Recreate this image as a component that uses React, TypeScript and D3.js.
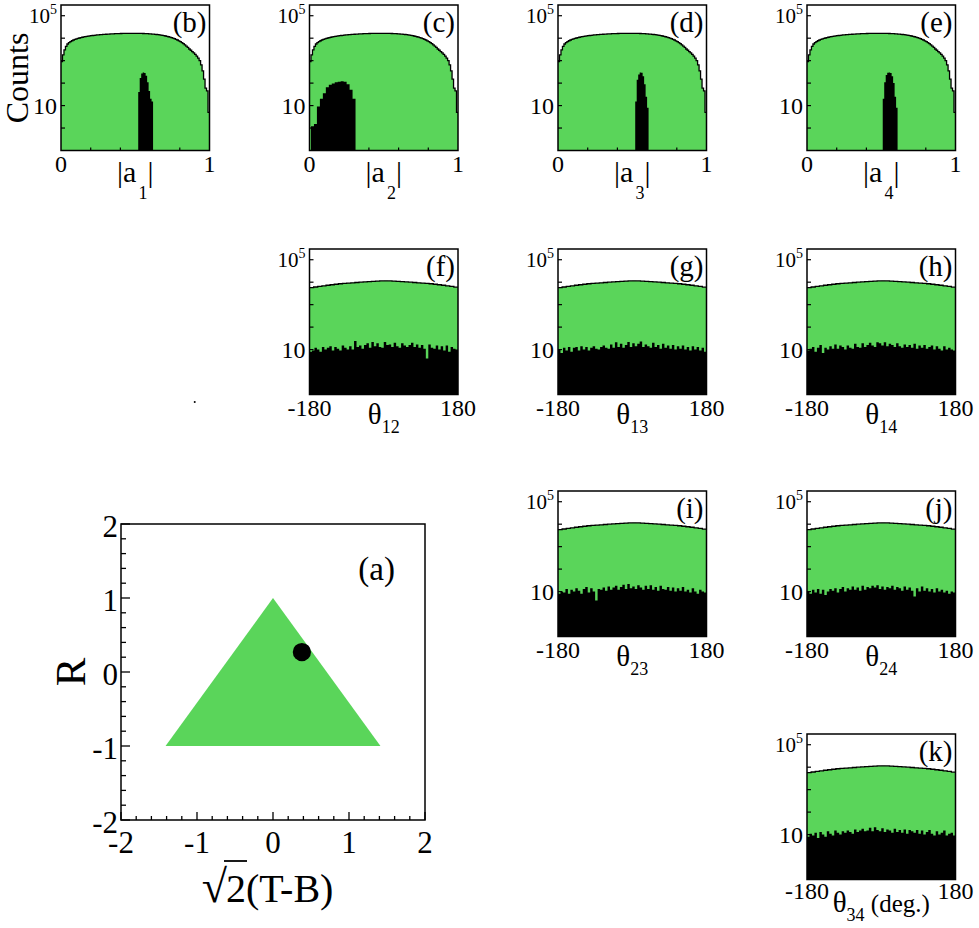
import React, { useEffect, useRef } from "react";
import * as d3 from "d3";

// ---- data ----

// |a_i| histograms, all events (green): 100 bins over [0, 1], same shape in (b)-(e)
const aGreen = [
  900, 1800, 3000, 4300, 5500, 6300, 7000, 7700, 8300, 8800,
  9300, 9800, 10200, 10600, 11000, 11400, 11700, 12000, 12300, 12600,
  12900, 13150, 13400, 13650, 13900, 14100, 14300, 14500, 14700, 14850,
  15000, 15150, 15300, 15450, 15600, 15700, 15800, 15900, 16000, 16100,
  16200, 16250, 16300, 16350, 16400, 16450, 16500, 16500, 16500, 16500,
  16500, 16450, 16400, 16350, 16300, 16200, 16100, 15950, 15800, 15650,
  15500, 15300, 15100, 14850, 14600, 14300, 14000, 13650, 13300, 12900,
  12500, 12050, 11600, 11100, 10600, 10050, 9500, 8900, 8300, 7650,
  7000, 6350, 5700, 5050, 4400, 3900, 3300, 2900, 2500, 2200,
  1900, 1600, 1300, 1000, 650, 350, 150, 60, 45, 5];

// selected events (black), bins start at *Start
const a1Start = 0.52, a1Width = 0.01;
const a1Black = [40, 170, 270, 300, 280, 210, 110, 45, 20, 15];
const a2Start = 0.01, a2Width = 0.02;
const a2Black = [1.2, 1.5, 9, 20, 35, 65, 85, 95, 108, 115, 120, 115, 90, 50, 20];
const a3Start = 0.52, a3Width = 0.01;
const a3Black = [15, 140, 240, 300, 290, 200, 90, 25, 8];
const a4Start = 0.51, a4Width = 0.01;
const a4Black = [20, 110, 230, 290, 300, 280, 200, 100, 25, 8];

// theta_ij histograms, all events: 36 bins over [-180, 180]
const thetaGreen = [5700, 6100, 6500, 6900, 7300, 7700, 8100, 8500, 8800, 9100,
  9400, 9700, 10000, 10300, 10600, 10900, 11200, 11400, 11500, 11400,
  11200, 10900, 10600, 10300, 10000, 9700, 9400, 9100, 8800, 8500,
  8100, 7700, 7300, 6900, 6500, 6000];

// selected events: 60 bins over [-180, 180]
const theta12Black = [8, 9, 12, 10, 8, 13, 10, 12, 14, 9, 13, 11, 9, 15, 12, 10, 14, 10, 24, 13,
  15, 11, 16, 19, 12, 22, 14, 19, 13, 12, 22, 16, 17, 13, 20, 14, 12, 19, 15, 13,
  16, 20, 13, 17, 12, 16, 11, 4, 17, 12, 11, 15, 10, 14, 9, 15, 8, 13, 11, 10];
const theta13Black = [10, 7, 12, 9, 13, 8, 12, 13, 9, 14, 10, 13, 9, 12, 14, 11, 10, 13, 15, 12,
  11, 17, 12, 21, 13, 18, 12, 16, 22, 13, 19, 14, 18, 23, 13, 17, 14, 12, 20, 13,
  16, 11, 18, 12, 15, 11, 16, 10, 14, 11, 15, 10, 13, 9, 14, 10, 13, 9, 12, 8];
const theta14Black = [9, 11, 13, 8, 12, 16, 7, 12, 10, 14, 11, 17, 11, 15, 13, 10, 15, 12, 11, 18,
  13, 12, 19, 13, 16, 20, 15, 13, 21, 19, 15, 21, 14, 18, 16, 13, 19, 14, 12, 17,
  13, 16, 12, 18, 11, 15, 12, 16, 11, 13, 15, 10, 14, 11, 9, 14, 10, 12, 10, 9];
const theta23Black = [8, 10, 9, 13, 8, 12, 10, 14, 11, 8, 13, 16, 9, 14, 10, 4, 13, 12, 15, 11,
  17, 12, 15, 18, 12, 16, 20, 13, 22, 14, 17, 13, 19, 15, 12, 18, 13, 19, 12, 16,
  11, 18, 13, 12, 16, 11, 15, 10, 14, 11, 16, 10, 12, 9, 14, 10, 8, 12, 10, 9];
const theta24Black = [10, 8, 12, 9, 13, 8, 12, 7, 10, 13, 11, 14, 9, 13, 16, 10, 14, 12, 17, 12,
  15, 11, 18, 12, 16, 14, 18, 15, 19, 13, 17, 12, 16, 14, 18, 12, 16, 14, 11, 17,
  12, 15, 11, 6, 14, 10, 17, 11, 14, 10, 13, 9, 14, 10, 12, 9, 11, 8, 10, 9];
const theta34Black = [8, 11, 9, 12, 7, 13, 10, 8, 14, 11, 9, 15, 12, 10, 14, 12, 15, 13, 11, 17,
  13, 15, 18, 14, 15, 20, 14, 21, 16, 14, 19, 13, 17, 15, 12, 18, 13, 16, 12, 17,
  11, 16, 14, 12, 16, 11, 15, 10, 13, 16, 11, 9, 14, 10, 12, 15, 9, 11, 12, 9];

// panel (a): allowed region (triangle) and the selected events
const triT = [0, -1.414, 1.414];
const triR = [1, -1, -1];
const blobT = [0.38];
const blobR = [0.27];
const blobSize = 0.12;
const strayT = [-1.03];
const strayR = [3.65];
const aTicks = [-2, -1, 0, 1, 2];

const countTicks = [1, 10, 100, 1000, 1e4, 1e5];

// ---- layout ----
const W = 979, H = 928;
const FONT = "'Liberation Serif', 'Times New Roman', serif";
const GREEN = "#5ad55a";
const colLeft = [61, 309.5, 558, 807];
const rowTop = [5, 249, 491, 734];
const PW = 148.5, PH = 145.5;

type Hist = {
  tag: string; col: number; row: number; kind: "a" | "theta"; sub: string;
  black: number[]; bStart: number; bWidth: number; last?: boolean;
};

const hists: Hist[] = [
  { tag: "(b)", col: 0, row: 0, kind: "a", sub: "1", black: a1Black, bStart: a1Start, bWidth: a1Width },
  { tag: "(c)", col: 1, row: 0, kind: "a", sub: "2", black: a2Black, bStart: a2Start, bWidth: a2Width },
  { tag: "(d)", col: 2, row: 0, kind: "a", sub: "3", black: a3Black, bStart: a3Start, bWidth: a3Width },
  { tag: "(e)", col: 3, row: 0, kind: "a", sub: "4", black: a4Black, bStart: a4Start, bWidth: a4Width },
  { tag: "(f)", col: 1, row: 1, kind: "theta", sub: "12", black: theta12Black, bStart: -180, bWidth: 6 },
  { tag: "(g)", col: 2, row: 1, kind: "theta", sub: "13", black: theta13Black, bStart: -180, bWidth: 6 },
  { tag: "(h)", col: 3, row: 1, kind: "theta", sub: "14", black: theta14Black, bStart: -180, bWidth: 6 },
  { tag: "(i)", col: 2, row: 2, kind: "theta", sub: "23", black: theta23Black, bStart: -180, bWidth: 6 },
  { tag: "(j)", col: 3, row: 2, kind: "theta", sub: "24", black: theta24Black, bStart: -180, bWidth: 6 },
  { tag: "(k)", col: 3, row: 3, kind: "theta", sub: "34", black: theta34Black, bStart: -180, bWidth: 6, last: true },
];

// turn bin values into step points [x, value]
function steps(values: number[], start: number, width: number): [number, number][] {
  return values.flatMap((v, i) => [[start + i * width, v], [start + (i + 1) * width, v]] as [number, number][]);
}

function drawHist(svg: any, p: Hist) {
  const left = colLeft[p.col], top = rowTop[p.row];
  const right = left + PW, bottom = top + PH;
  const xDom = p.kind === "a" ? [0, 1] : [-180, 180];
  const x = d3.scaleLinear().domain(xDom).range([left, right]);
  const y = d3.scaleLog().domain([0.1, 3e5]).range([bottom, top]).clamp(true);
  const g = svg.append("g").attr("font-family", FONT);

  const green = p.kind === "a" ? aGreen : thetaGreen;
  const gw = (xDom[1] - xDom[0]) / green.length;
  const greenPts = steps(green, xDom[0], gw);

  const area = d3.area<[number, number]>()
    .x(d => x(d[0]))
    .y0(y(0.1))
    .y1(d => y(d[1]));
  const line = d3.line<[number, number]>()
    .x(d => x(d[0]))
    .y(d => y(d[1]));

  g.append("path").attr("d", area(greenPts)).attr("fill", GREEN);
  g.append("path").attr("d", line(greenPts))
    .attr("fill", "none").attr("stroke", "#000").attr("stroke-width", 1.3);

  g.append("path").attr("d", area(steps(p.black, p.bStart, p.bWidth))).attr("fill", "#000");

  // inward ticks
  g.selectAll(".yt").data(countTicks).join("line")
    .attr("x1", left).attr("x2", left + 4)
    .attr("y1", d => y(d)).attr("y2", d => y(d))
    .attr("stroke", "#000").attr("stroke-width", 1.2);
  const xt = p.kind === "a" ? [0.2, 0.4, 0.6, 0.8] : [-90, 0, 90];
  g.selectAll(".xt").data(xt).join("line")
    .attr("x1", d => x(d)).attr("x2", d => x(d))
    .attr("y1", bottom).attr("y2", bottom - 3)
    .attr("stroke", "#000").attr("stroke-width", 1.2);

  g.append("rect").attr("x", left).attr("y", top).attr("width", PW).attr("height", PH)
    .attr("fill", "none").attr("stroke", "#000").attr("stroke-width", 1.5);

  // y tick labels
  const t5 = g.append("text").attr("x", left - 4).attr("y", y(1e5) + 7)
    .attr("text-anchor", "end");
  t5.append("tspan").attr("font-size", 21).text("10");
  t5.append("tspan").attr("font-size", 14).attr("dy", -9).text("5");
  g.append("text").attr("x", left - 4).attr("y", y(10) + 8)
    .attr("text-anchor", "end").attr("font-size", 24).text("10");

  g.append("text").attr("x", right - 3).attr("y", top + 27)
    .attr("text-anchor", "end").attr("font-size", 29).text(p.tag);

  // x tick labels
  const xl = p.kind === "a" ? ["0", "1"] : ["-180", "180"];
  const xlY = bottom + (p.last ? 19 : 21);
  [xDom[0], xDom[1]].forEach((v, i) => {
    g.append("text").attr("x", x(v)).attr("y", xlY).attr("text-anchor", "middle")
      .attr("font-size", 24).text(xl[i]);
  });

  // axis title
  const cx = (left + right) / 2;
  if (p.kind === "a") {
    const t = g.append("text").attr("x", cx).attr("y", bottom + 31).attr("text-anchor", "middle");
    t.append("tspan").attr("font-size", 30).text("|a");
    t.append("tspan").attr("font-size", 18).attr("dy", 17).attr("dx", 2).text(p.sub);
    t.append("tspan").attr("font-size", 30).attr("dy", -17).text("|");
  } else {
    const t = g.append("text").attr("x", cx).attr("y", bottom + (p.last ? 32 : 29))
      .attr("text-anchor", "middle");
    t.append("tspan").attr("font-size", 29).text("θ");
    t.append("tspan").attr("font-size", 18).attr("dy", 9).text(p.sub);
    if (p.last) t.append("tspan").attr("font-size", 25).attr("dy", -9).text(" (deg.)");
  }
}

function drawTriangle(svg: any) {
  const left = 121, right = 425, top = 524, bottom = 820;
  const x = d3.scaleLinear().domain([-2, 2]).range([left, right]);
  const y = d3.scaleLinear().domain([-2, 2]).range([bottom, top]);
  const g = svg.append("g").attr("font-family", FONT);

  const verts: [number, number][] = triT.map((t, i) => [t, triR[i]]);
  const poly = d3.line<[number, number]>().x(d => x(d[0])).y(d => y(d[1])).curve(d3.curveLinearClosed);
  g.append("path").attr("d", poly(verts)).attr("fill", GREEN);

  g.selectAll(".blob").data(blobT).join("circle")
    .attr("cx", d => x(d)).attr("cy", (d, i) => y(blobR[i]))
    .attr("r", x(blobSize) - x(0)).attr("fill", "#000");
  g.selectAll(".stray").data(strayT).join("circle")
    .attr("cx", d => x(d)).attr("cy", (d, i) => y(strayR[i]))
    .attr("r", 1).attr("fill", "#000");

  const minor = d3.range(-2, 2.001, 0.2).map(v => Math.round(v * 10) / 10);
  g.selectAll(".yt").data(minor).join("line")
    .attr("x1", left).attr("x2", d => left + (Number.isInteger(d) ? 9 : 5))
    .attr("y1", d => y(d)).attr("y2", d => y(d))
    .attr("stroke", "#000").attr("stroke-width", 1.3);
  g.selectAll(".xt").data(minor).join("line")
    .attr("x1", d => x(d)).attr("x2", d => x(d))
    .attr("y1", bottom).attr("y2", d => bottom - (Number.isInteger(d) ? 8 : 4))
    .attr("stroke", "#000").attr("stroke-width", 1.3);

  g.append("rect").attr("x", left).attr("y", top).attr("width", right - left).attr("height", bottom - top)
    .attr("fill", "none").attr("stroke", "#000").attr("stroke-width", 1.5);

  g.selectAll(".yl").data(aTicks).join("text")
    .attr("x", left - 3).attr("y", d => y(d) + 13).attr("text-anchor", "end")
    .attr("font-size", 31).text(d => String(d));
  g.selectAll(".xl").data(aTicks).join("text")
    .attr("x", d => x(d)).attr("y", bottom + 33).attr("text-anchor", "middle")
    .attr("font-size", 31).text(d => String(d));

  g.append("text").attr("x", right - 30).attr("y", top + 56).attr("text-anchor", "end")
    .attr("font-size", 33).text("(a)");

  g.append("text").attr("transform", `translate(${left - 36},${y(0)}) rotate(-90)`)
    .attr("text-anchor", "middle").attr("font-size", 43).text("R");

  // sqrt(2)(T-B)
  const bx = 226, by = bottom + 82;
  g.append("text").attr("x", bx + 1).attr("y", by).attr("text-anchor", "end")
    .attr("font-size", 46).text("√");
  g.append("line").attr("x1", bx - 2).attr("x2", bx + 21).attr("y1", by - 41).attr("y2", by - 41)
    .attr("stroke", "#000").attr("stroke-width", 1.8);
  g.append("text").attr("x", bx).attr("y", by).attr("text-anchor", "start")
    .attr("font-size", 40).text("2(T-B)");
}

export default function App() {
  const ref = useRef<SVGSVGElement>(null);

  useEffect(() => {
    const svg = d3.select(ref.current);
    svg.selectAll("*").remove();
    svg.append("rect").attr("width", W).attr("height", H).attr("fill", "#fff");

    hists.forEach(p => drawHist(svg, p));
    drawTriangle(svg);

    svg.append("text").attr("transform", `translate(28,78) rotate(-90)`)
      .attr("text-anchor", "middle").attr("font-family", FONT).attr("font-size", 32).text("Counts");
  }, []);

  return (
    <svg ref={ref} width={W} height={H}
      style={{ position: "absolute", left: 0, top: 0, display: "block" }} />
  );
}
